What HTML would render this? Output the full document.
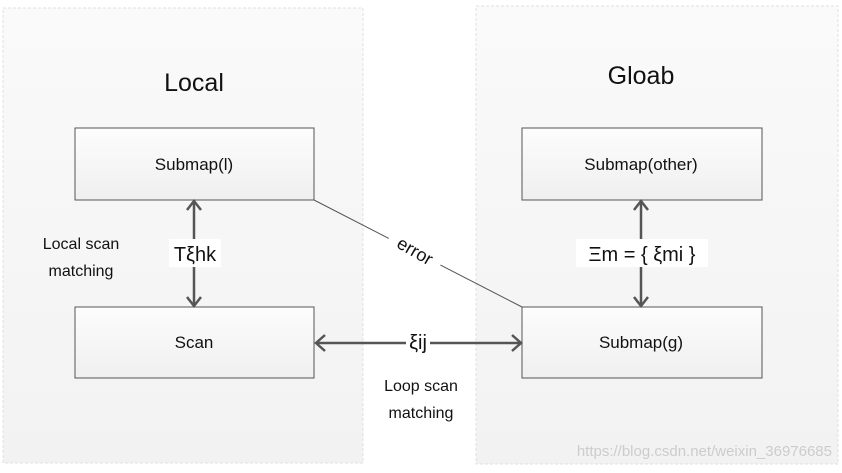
<!DOCTYPE html>
<html><head><style>
body{margin:0;width:842px;height:468px;background:#fff;overflow:hidden;font-family:"Liberation Sans","DejaVu Sans",sans-serif}
</style></head><body>
<svg width="842" height="468" xmlns="http://www.w3.org/2000/svg" font-family="Liberation Sans, DejaVu Sans, sans-serif">
<defs>
<linearGradient id="g" x1="0" y1="0" x2="0" y2="1"><stop offset="0" stop-color="#fafafa"/><stop offset="1" stop-color="#f2f2f2"/></linearGradient>
<linearGradient id="b" x1="0" y1="0" x2="0" y2="1"><stop offset="0" stop-color="#fdfdfd"/><stop offset="1" stop-color="#efefef"/></linearGradient>
</defs>
<rect x="3" y="8" width="360" height="455" fill="url(#g)" stroke="#e0e0e0" stroke-dasharray="3,2"/>
<rect x="476" y="6" width="362" height="458" fill="url(#g)" stroke="#e0e0e0" stroke-dasharray="3,2"/>
<text x="194" y="91" font-size="25" text-anchor="middle" fill="#111">Local</text>
<text x="641" y="84" font-size="25" text-anchor="middle" fill="#111">Gloab</text>
<g stroke="#555" fill="url(#b)"><rect x="75" y="128" width="239" height="72"/><rect x="522" y="128" width="240" height="72"/><rect x="75" y="307" width="239" height="71"/><rect x="522" y="307" width="240" height="71"/></g>
<g font-size="17" text-anchor="middle" fill="#111">
<text x="194" y="170">Submap(l)</text><text x="641" y="170">Submap(other)</text>
<text x="194" y="348">Scan</text><text x="641" y="348">Submap(g)</text></g>
<line x1="314" y1="200" x2="522" y2="307" stroke="#555" stroke-width="1"/>
<rect x="386" y="239" width="58" height="24" fill="#fff" transform="rotate(30 415 251)"/>
<text x="415" y="257" font-size="18" text-anchor="middle" transform="rotate(30 415 251)" fill="#111">error</text>
<g stroke="#555" stroke-width="2.5" fill="none">
<line x1="194" y1="202" x2="194" y2="305"/><polyline points="187,210 194,201 201,210"/><polyline points="187,297 194,306 201,297"/>
<line x1="641" y1="202" x2="641" y2="305"/><polyline points="634,210 641,201 648,210"/><polyline points="634,297 641,306 648,297"/>
<line x1="316" y1="343" x2="521" y2="343"/><polyline points="325,335 316,343 325,351"/><polyline points="512,335 521,343 512,351"/>
</g>
<rect x="169" y="239" width="52" height="28" fill="#fff"/>
<text x="195" y="261" font-size="20" text-anchor="middle" fill="#111">Tξhk</text>
<rect x="576" y="239" width="132" height="28" fill="#fff"/>
<text x="642" y="261" font-size="20" text-anchor="middle" fill="#111">Ξm = { ξmi }</text>
<rect x="406" y="330" width="24" height="24" fill="#fff"/>
<text x="418" y="349" font-size="20" text-anchor="middle" fill="#111">ξij</text>
<g font-size="16" text-anchor="middle" fill="#111">
<text x="81" y="249">Local scan</text><text x="81" y="276">matching</text>
<text x="421" y="391">Loop scan</text><text x="421" y="418">matching</text></g>
<text x="832" y="456" font-size="15" text-anchor="end" fill="#ccc">https://blog.csdn.net/weixin_36976685</text>
</svg>
</body></html>
